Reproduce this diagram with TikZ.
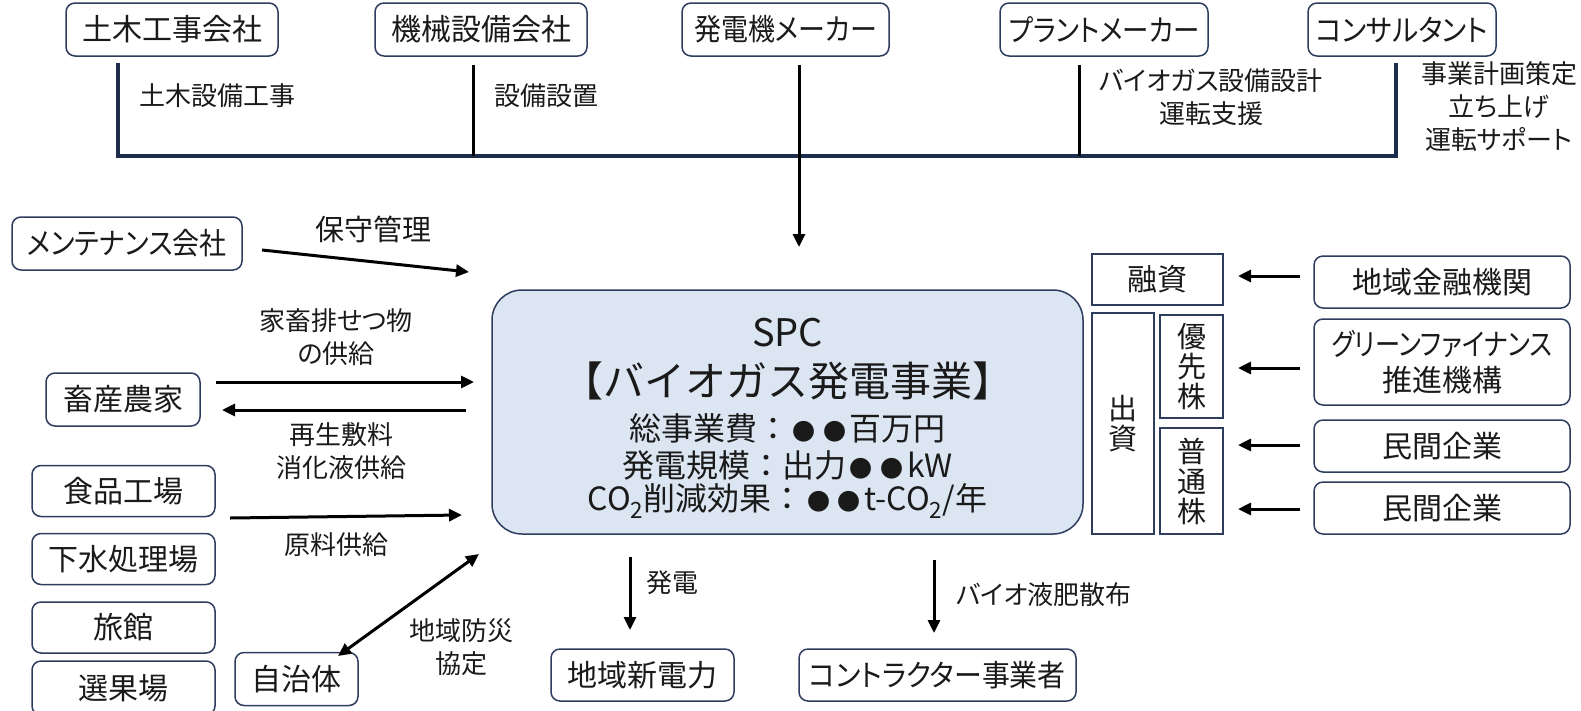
\documentclass[tikz,border=0pt]{standalone}
\usepackage{fontspec}
\setmainfont{Noto Sans CJK JP}[RawFeature=+palt]
\newfontfamily\jpfull{Noto Sans CJK JP}
\usetikzlibrary{arrows.meta}
\definecolor{boxnavy}{HTML}{2E3C5E}
\definecolor{brnavy}{HTML}{1F2D4D}
\definecolor{spcfill}{HTML}{DCE6F2}
\definecolor{ink}{HTML}{1A1A1A}
\newcommand{\bxf}{\fontsize{30}{34}\selectfont}
\newcommand{\lbf}{\fontsize{26}{33}\selectfont}
\newcommand{\bul}{\makebox[0.95em]{\scalebox{0.72}{●}}}
\newcommand{\nar}[2]{\scalebox{#1}[1]{#2}}
\begin{document}
\begin{tikzpicture}[x=1pt,y=-1pt,
  box/.style={draw=boxnavy, line width=1.5pt, rounded corners=9pt, fill=white, inner sep=0pt, font=\bxf, text=ink, align=center},
  sqbox/.style={draw=boxnavy, line width=1.5pt, fill=white, inner sep=0pt, font=\bxf, text=ink, align=center},
  lab/.style={inner sep=0pt, font=\lbf, text=ink, align=center},
  arr/.style={line width=3pt, draw=black, -{Triangle[length=13pt,width=12pt]}},
  darr/.style={line width=3pt, draw=black, {Triangle[length=13pt,width=12pt]}-{Triangle[length=13pt,width=12pt]}},
  bracket/.style={line width=4pt, draw=brnavy},
  tick/.style={line width=3pt, draw=black},
  spct/.style={inner sep=0pt, text=ink, font=\jpfull}
]
\useasboundingbox (0,0) rectangle (1581,710);

% top boxes
\node[box, minimum width=212, minimum height=53] (doboku) at (172,29.5) {土木工事会社};
\node[box, minimum width=212, minimum height=53] (kikai) at (481,29.5) {機械設備会社};
\node[box, minimum width=207, minimum height=53] (hatsu) at (785.5,29.5) {\nar{0.9}{発電機メーカー}};
\node[box, minimum width=208, minimum height=53] (plant) at (1104,29.5) {\nar{0.88}{プラントメーカー}};
\node[box, minimum width=188, minimum height=53] (consul) at (1402,29.5) {\nar{0.92}{コンサルタント}};

% bracket
\coordinate (bL) at (118,63);
\coordinate (bR) at (1396,63);
\draw[bracket] (bL) -- (118,156) -- (1396,156) -- (bR);
\coordinate (t1a) at (473,65); \coordinate (t1b) at (473,156);
\coordinate (t2a) at (1079,65); \coordinate (t2b) at (1079,156);
\draw[tick] (t1a) -- (t1b);
\draw[tick] (t2a) -- (t2b);
\coordinate (gA) at (799,65); \coordinate (gB) at (799,247);
\draw[arr] (gA) -- (gB);

\node[lab, anchor=west] (l1) at (139,96) {土木設備工事};
\node[lab, anchor=west] (l2) at (494,96) {設備設置};
\node[lab] (l3) at (1211,97) {バイオガス設備設計\\運転支援};
\node[lab] (l4) at (1499,107) {事業計画策定\\立ち上げ\\運転サポート};

% left side
\node[box, minimum width=230, minimum height=53] (maint) at (127,243.5) {\nar{0.9}{メンテナンス会社}};
\coordinate (mA) at (262,250); \coordinate (mB) at (469,272);
\draw[arr] (mA) -- (mB);
\node[lab, font=\fontsize{29}{33}\selectfont] (l5) at (373,229) {保守管理};

\node[box, minimum width=154, minimum height=53] (chiku) at (123,399.5) {畜産農家};
\coordinate (cA) at (474,382);
\coordinate (cB) at (466,410);
\draw[arr] (chiku.east |- cA) ++(15,0) coordinate (cA0) -- (cA);
\coordinate (cB0) at (222,410);
\draw[arr] (cB) -- (cB0);
\node[lab] (l6) at (336,337) {家畜排せつ物\\の供給};
\node[lab] (l7) at (341,451) {再生敷料\\消化液供給};

\node[box, minimum width=183, minimum height=51] (food) at (123.5,491) {食品工場};
\node[box, minimum width=183, minimum height=51] (sewer) at (123.5,559) {下水処理場};
\node[box, minimum width=183, minimum height=51] (ryokan) at (123.5,627.5) {旅館};
\node[box, minimum width=183, minimum height=54] (senka) at (123.5,688) {選果場};
\coordinate (fA) at (230,518); \coordinate (fB) at (462,515);
\draw[arr] (fA) -- (fB);
\node[lab] (l8) at (336,545) {原料供給};

\node[box, minimum width=123, minimum height=53] (jichi) at (296.5,679) {自治体};
\coordinate (jA) at (338,656); \coordinate (jB) at (479,554);
\draw[darr] (jA) -- (jB);
\node[lab] (l9) at (461,647) {地域防災\\協定};

% SPC
\node[draw=boxnavy, line width=1.5pt, fill=spcfill, rounded corners=30pt, minimum width=591, minimum height=244] (spc) at (787.5,412) {};
\node[spct, font=\jpfull\fontsize{38}{40}\selectfont] (s1) at (787.5,333) {SPC};
\node[spct, font=\jpfull\fontsize{41}{44}\selectfont] (s2) at (787.5,381) {【バイオガス発電事業】};
\node[spct, font=\jpfull\fontsize{32}{36}\selectfont] (s3) at (787.5,428) {総事業費：\bul\bul 百万円};
\node[spct, font=\jpfull\fontsize{32}{36}\selectfont] (s4) at (787.5,465) {発電規模：出力\bul\bul kW};
\node[spct, font=\jpfull\fontsize{32}{36}\selectfont] (s5) at (787.5,501) {CO\textsubscript{2}削減効果：\bul\bul t-CO\textsubscript{2}/年};

% bottom
\node[box, minimum width=183, minimum height=52] (shinden) at (642.5,675) {地域新電力};
\node[box, minimum width=277, minimum height=52] (contr) at (937.5,675) {\nar{0.93}{コントラクター事業者}};
\coordinate (pA) at (630,557); \coordinate (pB) at (630,630);
\draw[arr] (pA) -- (pB);
\node[lab, anchor=west] (l10) at (646,583) {発電};
\coordinate (eA) at (934,560); \coordinate (eB) at (934,633);
\draw[arr] (eA) -- (eB);
\node[lab] (l11) at (1044,595) {バイオ液肥散布};

% right
\node[sqbox, minimum width=131, minimum height=51] (yuushi) at (1157.5,279.5) {融資};
\node[sqbox, minimum width=62, minimum height=221, font=\fontsize{29}{30}\selectfont] (shusshi) at (1123,423.5) {出\\資};
\node[sqbox, minimum width=63, minimum height=103, font=\fontsize{29}{30}\selectfont] (yuusen) at (1191.5,366.5) {優\\先\\株};
\node[sqbox, minimum width=63, minimum height=106, font=\fontsize{29}{30}\selectfont] (futsuu) at (1191.5,481) {普\\通\\株};

\node[box, minimum width=256, minimum height=52] (kinyu) at (1442,282) {地域金融機関};
\node[box, minimum width=256, minimum height=86, font=\fontsize{30}{36}\selectfont] (green) at (1442,362) {\nar{0.84}{グリーンファイナンス}\\推進機構};
\node[box, minimum width=256, minimum height=52] (minkan1) at (1442,446) {民間企業};
\node[box, minimum width=256, minimum height=52] (minkan2) at (1442,508) {民間企業};

\coordinate (r1) at (1238,276); \coordinate (r2) at (1238,368);
\coordinate (r3) at (1238,445); \coordinate (r4) at (1238,509);
\draw[arr] (kinyu.west |- r1) ++(-13,0) -- (r1);
\draw[arr] (green.west |- r2) ++(-13,0) -- (r2);
\draw[arr] (minkan1.west |- r3) ++(-13,0) -- (r3);
\draw[arr] (minkan2.west |- r4) ++(-13,0) -- (r4);
\end{tikzpicture}
\end{document}
